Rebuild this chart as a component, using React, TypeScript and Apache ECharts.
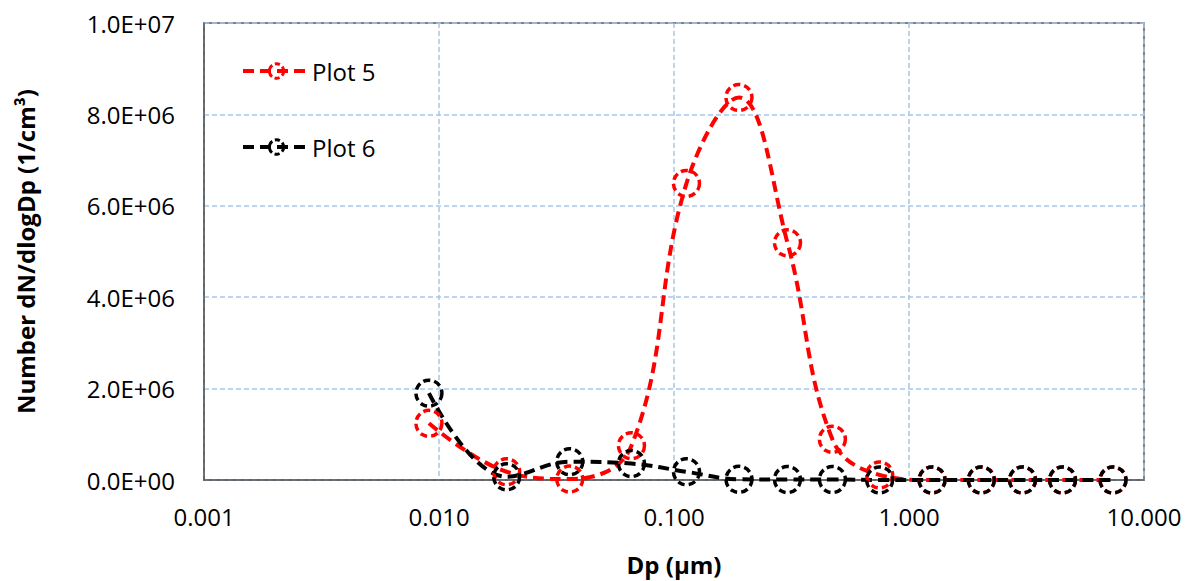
import React, { useEffect, useRef } from "react";
import * as echarts from "echarts";

const diameters = [0.00906, 0.0194, 0.036, 0.0659, 0.113, 0.189, 0.304, 0.472, 0.75, 1.253, 2.03, 3.04, 4.5, 7.38];
const plot5 = [1.24e6, 1.8e5, 2e4, 7.5e5, 6.49e6, 8.37e6, 5.19e6, 8.9e5, 1.1e5, 0, 0, 0, 0, 0];
const plot6 = [1.9e6, 7e4, 4.0e5, 3.6e5, 1.8e5, 1.5e4, 1e4, 1e4, 0, 0, 0, 0, 0, 0];
const seriesNames = ["Plot 5", "Plot 6"];
const seriesColors = ["#FF0000", "#000000"];

const FONT = "'Open Sans', sans-serif";

function fmtExp(v: number): string {
  const [m, e] = v.toExponential(1).split("e");
  const sign = e[0];
  const digits = e.slice(1).padStart(2, "0");
  return `${m}E${sign}${digits}`;
}

export default function App() {
  const ref = useRef<HTMLDivElement>(null);
  useEffect(() => {
    if (!ref.current) return;
    const chart = echarts.init(ref.current, undefined, { renderer: "svg" });
    const mk = (name: string, color: string, vals: number[]) => ({
      name,
      type: "line",
      data: diameters.map((d, i) => [d, vals[i]]),
      smooth: 0.4,
      symbol: "circle",
      symbolSize: 26,
      showSymbol: true,
      lineStyle: { color, width: 4, type: [11, 6] },
      itemStyle: { color: "rgba(0,0,0,0)", borderColor: color, borderWidth: 3.5, borderType: [7, 4] },
      emphasis: { disabled: true },
    });
    chart.setOption({
      animation: false,
      backgroundColor: "#ffffff",
      grid: {
        left: 204,
        top: 23,
        right: 44,
        bottom: 101,
        show: true,
        borderColor: "#595959",
        borderWidth: 1.5,
        backgroundColor: "transparent",
      },
      legend: {
        orient: "vertical",
        left: 236,
        top: 54,
        itemWidth: 67,
        itemHeight: 18,
        itemGap: 52,
        data: seriesNames,
        lineStyle: { width: 4, type: [11, 6] },
        itemStyle: { borderWidth: 3, borderType: [5, 3] },
        textStyle: { fontFamily: FONT, fontSize: 24, color: "#000", padding: [0, 0, 0, -3] },
        selectedMode: false,
      },
      xAxis: {
        type: "log",
        logBase: 10,
        min: 0.001,
        max: 10,
        name: "Dp (µm)",
        nameLocation: "middle",
        nameGap: 72,
        nameTextStyle: { fontFamily: FONT, fontSize: 24, fontWeight: "bold", color: "#000" },
        axisLine: { show: true, lineStyle: { color: "#595959", width: 1.5 } },
        axisTick: { show: false },
        axisLabel: {
          fontFamily: FONT,
          fontSize: 24,
          color: "#000",
          margin: 24,
          formatter: (v: number) => v.toFixed(3),
        },
        splitLine: { show: true, lineStyle: { color: "#a6c8ea", type: [5, 3], width: 1.5 } },
        minorTick: { show: false },
      },
      yAxis: {
        type: "value",
        min: 0,
        max: 1e7,
        interval: 2e6,
        name: "Number dN/dlogDp (1/cm³)",
        nameLocation: "middle",
        nameRotate: 90,
        nameGap: 167,
        nameTextStyle: { fontFamily: FONT, fontSize: 24, fontWeight: "bold", color: "#000" },
        axisLine: { show: true, lineStyle: { color: "#595959", width: 1.5 } },
        axisTick: { show: false },
        axisLabel: {
          fontFamily: FONT,
          fontSize: 24,
          color: "#000",
          margin: 29,
          formatter: (v: number) => fmtExp(v),
        },
        splitLine: { show: true, lineStyle: { color: "#a6c8ea", type: [5, 3], width: 1.5 } },
      },
      series: [
        mk(seriesNames[0], seriesColors[0], plot5),
        mk(seriesNames[1], seriesColors[1], plot6),
      ],
    });
    return () => chart.dispose();
  }, []);
  return <div ref={ref} style={{ position: "absolute", left: 0, top: 0, width: 1188, height: 581 }} />;
}
